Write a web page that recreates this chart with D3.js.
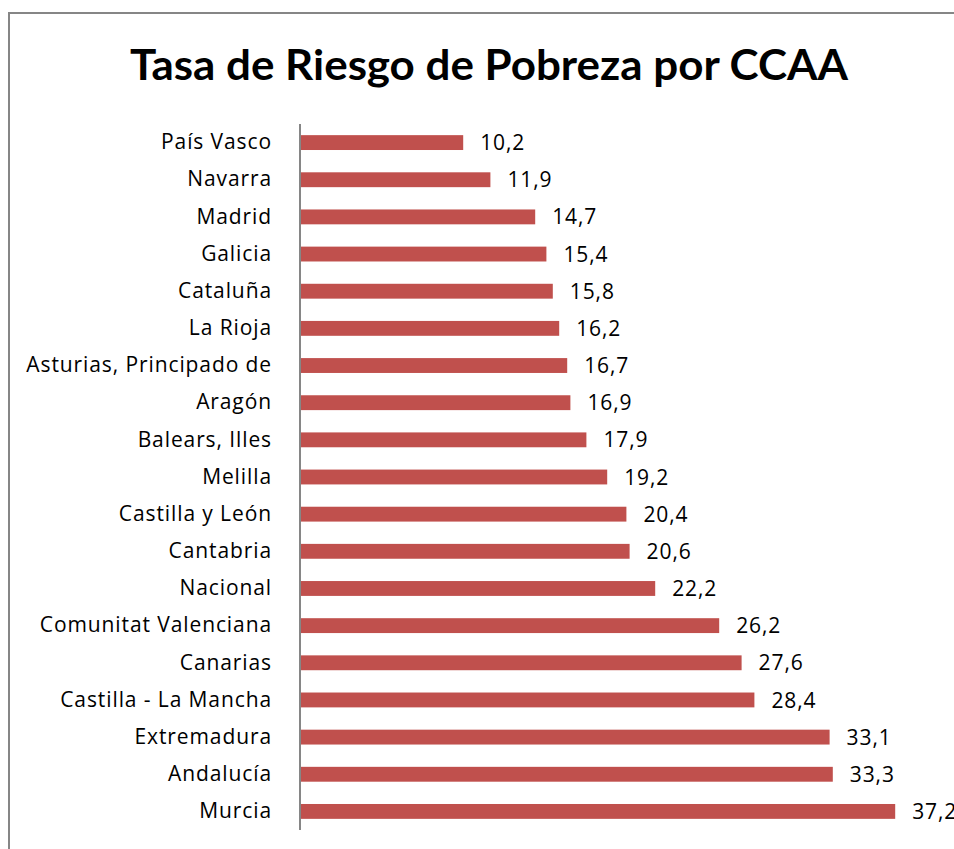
<!DOCTYPE html>
<html>
<head>
<meta charset="utf-8">
<script src="https://cdn.jsdelivr.net/npm/d3@7"></script>
<style>
  html, body { margin: 0; padding: 0; background: #fff; }
  svg { display: block; }
</style>
</head>
<body>
<svg id="chart" width="954" height="849"></svg>
<script>
const title = "Tasa de Riesgo de Pobreza por CCAA";
const categories = ["País Vasco", "Navarra", "Madrid", "Galicia", "Cataluña", "La Rioja",
  "Asturias, Principado de", "Aragón", "Balears, Illes", "Melilla", "Castilla y León",
  "Cantabria", "Nacional", "Comunitat Valenciana", "Canarias", "Castilla - La Mancha",
  "Extremadura", "Andalucía", "Murcia"];
const values = [10.2, 11.9, 14.7, 15.4, 15.8, 16.2, 16.7, 16.9, 17.9, 19.2, 20.4,
  20.6, 22.2, 26.2, 27.6, 28.4, 33.1, 33.3, 37.2];
const xDomain = [0, 40];

const svg = d3.select("#chart");
const font = "'Open Sans', sans-serif";

// chart border
svg.append("rect")
  .attr("x", 9).attr("y", 13).attr("width", 1000).attr("height", 1000)
  .attr("fill", "none").attr("stroke", "#868686").attr("stroke-width", 2);

const x = d3.scaleLinear().domain(xDomain).range([300, 940]);
const y = d3.scaleBand().domain(categories).range([124, 830]).paddingInner(0.6).paddingOuter(0.3);

svg.append("text")
  .attr("x", 489).attr("y", 80)
  .attr("text-anchor", "middle")
  .attr("font-family", "Lato, 'Open Sans', sans-serif").attr("font-weight", "bold").attr("font-size", 42)
  .attr("textLength", 718).attr("lengthAdjust", "spacingAndGlyphs")
  .attr("fill", "#000")
  .text(title);

const data = categories.map((c, i) => ({c, v: values[i]}));

svg.append("g").selectAll("rect").data(data).join("rect")
  .attr("x", x(0))
  .attr("y", d => y(d.c))
  .attr("width", d => x(d.v) - x(0))
  .attr("height", y.bandwidth())
  .attr("fill", "#C0504D");

const yAxis = d3.axisLeft(y).tickSize(0).tickPadding(28);
const gy = svg.append("g").attr("transform", `translate(${x(0)},0)`).call(yAxis);
gy.select(".domain").attr("stroke", "#868686").attr("stroke-width", 2)
  .attr("d", "M0,124V830");
gy.selectAll("text").attr("font-family", font).attr("font-size", 21)
  .attr("letter-spacing", 0.9).attr("fill", "#000");

const fmt = v => d3.format(".1f")(v).replace(".", ",");
svg.append("g").selectAll("text").data(data).join("text")
  .attr("x", d => x(d.v) + 17)
  .attr("y", d => y(d.c) + y.bandwidth() / 2)
  .attr("dy", "0.36em")
  .attr("font-family", font).attr("font-size", 21).attr("letter-spacing", 0.9).attr("fill", "#000")
  .text(d => fmt(d.v));
</script>
</body>
</html>
